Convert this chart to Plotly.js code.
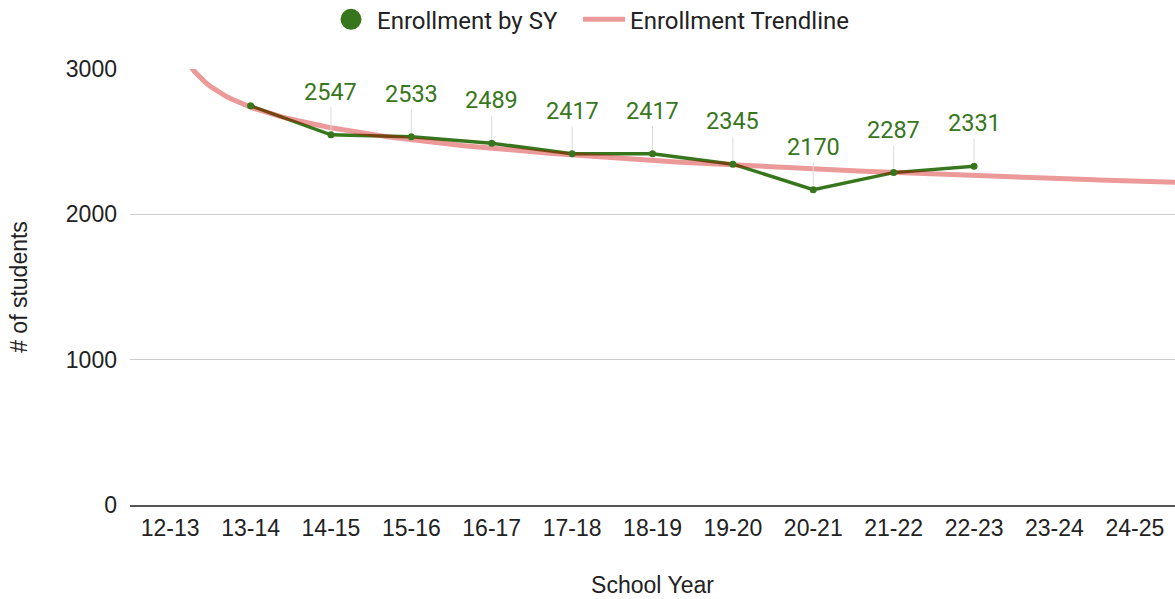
<!DOCTYPE html>
<html>
<head>
<meta charset="utf-8">
<script src="https://cdn.plot.ly/plotly-3.0.1.min.js"></script>
<style>html,body{margin:0;padding:0;background:#fff;}#chart{width:1175px;height:599px;}</style>
</head>
<body>
<div id="chart"></div>
<script>
// Tick labels (school years) on the x axis
const schoolYears = ["12-13","13-14","14-15","15-16","16-17","17-18","18-19","19-20","20-21","21-22","22-23","23-24","24-25"];
// Enrollment data (school years 13-14 .. 22-23)
const enrollYears = ["13-14","14-15","15-16","16-17","17-18","18-19","19-20","20-21","21-22","22-23"];
const enrollment = [2747, 2547, 2533, 2489, 2417, 2417, 2345, 2170, 2287, 2331];
// Which points show a data label (first one is hidden in the reference)
const showLabel = [false, true, true, true, true, true, true, true, true, true];
const yTicks = [0, 1000, 2000, 3000];

const GREEN = "#38761d";
const TREND = "rgba(204,0,0,0.4)";

// positions of the categories on a numeric axis
const xIdx = enrollYears.map(y => schoolYears.indexOf(y));

// Logarithmic trendline (least-squares fit of y = a*ln(x) + b on the data, as the original chart does)
const lx = xIdx.map(v => Math.log(v));
const n = lx.length;
const mL = lx.reduce((s, v) => s + v, 0) / n;
const mY = enrollment.reduce((s, v) => s + v, 0) / n;
let sxx = 0, sxy = 0;
for (let i = 0; i < n; i++) { sxx += (lx[i] - mL) ** 2; sxy += (lx[i] - mL) * (enrollment[i] - mY); }
const a = sxy / sxx, b = mY - a * mL;
const trendX = [], trendY = [];
for (let x = 0.15; x <= schoolYears.length - 0.5 + 1e-9; x += 0.05) {
  trendX.push(x); trendY.push(a * Math.log(x) + b);
}

const traces = [
  { x: xIdx, y: enrollment, type: "scatter", mode: "lines", line: { color: GREEN, width: 3.5 },
    showlegend: false, hoverinfo: "skip" },
  { x: trendX, y: trendY, type: "scatter", mode: "lines", name: "Enrollment Trendline",
    line: { color: TREND, width: 5 }, hoverinfo: "skip", legend: "legend2" },
  { x: xIdx, y: enrollment, type: "scatter", mode: "markers", marker: { color: GREEN, size: 7 },
    showlegend: false },
  { x: [null], y: [null], type: "scatter", mode: "markers", name: "Enrollment by SY",
    marker: { color: GREEN, size: 16, line: { color: GREEN, width: 5 } }, legend: "legend" }
];

const annotations = [];
xIdx.forEach((x, i) => {
  if (!showLabel[i]) return;
  annotations.push({
    x: x, y: enrollment[i], xref: "x", yref: "y",
    text: String(enrollment[i]), showarrow: true, arrowhead: 0, arrowwidth: 1,
    arrowcolor: "#dcdcdc", ax: 0, ay: -43, standoff: 4,
    font: { family: "Roboto, sans-serif", size: 23.5, color: GREEN }
  });
});

const AXFONT = "Liberation Sans, Arial, sans-serif";
const legendBase = {
  orientation: "h", xanchor: "left", y: 0.967, yanchor: "middle",
  xref: "paper", yref: "container",
  font: { family: "Roboto, sans-serif", size: 24, color: "#222" },
  itemwidth: 42
};
const layout = {
  width: 1175, height: 599,
  margin: { l: 130, r: 0, t: 69, b: 94 },
  paper_bgcolor: "#fff", plot_bgcolor: "#fff",
  showlegend: true,
  legend: Object.assign({}, legendBase, { x: 0.1866 }),
  legend2: Object.assign({}, legendBase, { x: 0.4287 }),
  xaxis: {
    range: [-0.5, schoolYears.length - 0.5], tickmode: "array",
    tickvals: schoolYears.map((_, i) => i), ticktext: schoolYears,
    showgrid: false, zeroline: false, showline: true, linecolor: "#555", linewidth: 1.5,
    ticks: "", ticklabelstandoff: 2,
    tickfont: { family: AXFONT, size: 23, color: "#222" },
    title: { text: "School Year", standoff: 37,
      font: { family: AXFONT, size: 23, color: "#222" } },
    fixedrange: true
  },
  yaxis: {
    range: [0, 3000], tickvals: yTicks, ticktext: yTicks.map(String),
    showgrid: true, gridcolor: "#cccccc", gridwidth: 1.2, zeroline: false, showline: false,
    ticks: "", ticklabelstandoff: 12,
    tickfont: { family: AXFONT, size: 23, color: "#222" },
    title: { text: "# of students", standoff: 31,
      font: { family: AXFONT, size: 23, color: "#222" } },
    fixedrange: true
  },
  annotations: annotations
};

Plotly.newPlot("chart", traces, layout, { displayModeBar: false, staticPlot: true });
</script>
</body>
</html>
